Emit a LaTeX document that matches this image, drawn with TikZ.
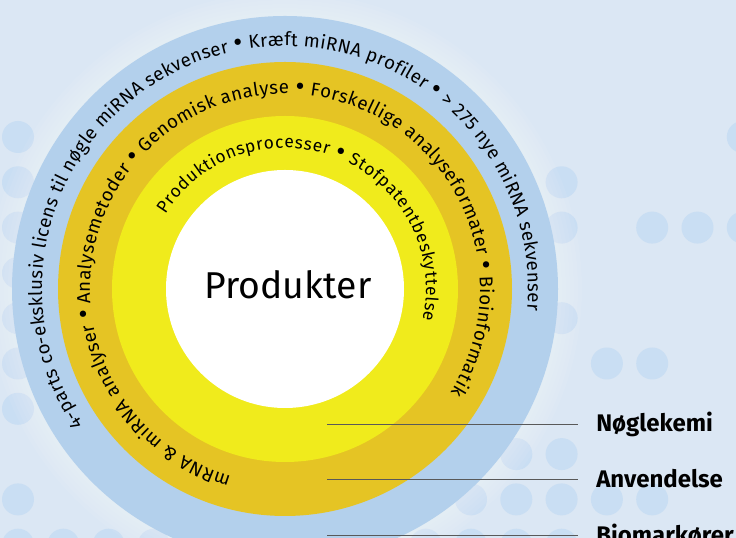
\documentclass[tikz,border=0pt]{standalone}
\usepackage{fontspec}
\setmainfont{Fira Sans}
\usetikzlibrary{decorations.text}

\definecolor{bgblue}{RGB}{219,231,244}
\definecolor{dotblue}{RGB}{201,222,243}
\definecolor{ringblue}{RGB}{179,208,236}
\definecolor{ringgold}{RGB}{229,196,36}
\definecolor{ringyellow}{RGB}{240,235,28}

\newcommand{\bigdot}{{\raisebox{-1.2pt}{\fontsize{21}{21}\selectfont •}}}

\begin{document}
\begin{tikzpicture}[x=0.75pt,y=0.75pt,
  bgdot/.style={fill=dotblue},
  ringtext/.style={decorate,decoration={text along path,text align={fit to path},text={#1}}},
  leader/.style={draw=black!65,line width=0.7pt},
  keyword/.style={anchor=west,inner xsep=13.5pt,inner ysep=0pt,font=\fontsize{18}{21}\selectfont\bfseries}]
\def\sp{45.3};\def\rblue{273};\def\rgold{227};\def\ryellow{173};\def\rwhite{119};
\useasboundingbox (0,0) rectangle (736,538);
\fill[bgblue] (0,0) rectangle (736,538);

% dots in the background
\foreach \i/\j in {0/0,16/0,0/1,12/1,0/2,12/2,14/2,15/2,16/2,0/3,0/4,12/4,0/5,13/5,14/5,0/6,
  11/7,12/7,0/8,10/8,11/8,12/8,13/8,14/8,0/9,1/9,2/9,3/9,9/9,10/9,11/9,12/9}
  \fill[bgdot] (18+\i*\sp,401-\j*\sp) circle[radius=16];

\coordinate (c) at (285,249);

\foreach \r in {277,281,...,297}
  \fill[white,opacity=0.06] (c) circle[radius=\r];
\fill[ringblue] (c) circle[radius=\rblue];
\fill[ringgold] (c) circle[radius=\rgold];
\fill[ringyellow] (c) circle[radius=\ryellow];
\fill[white] (c) circle[radius=\rwhite];

\node (prod) at (288,253) {\fontsize{28}{32}\selectfont Produkter};

\path[ringtext={|\fontsize{14}{16}\selectfont|4-parts co-eksklusiv licens til nøgle miRNA sekvenser {\bigdot} Kræft miRNA profiler {\bigdot} > 275 nye miRNA sekvenser}]
  (c) ++(214:243) arc[start angle=214,end angle=-5,radius=243];
\path[ringtext={|\fontsize{14}{16}\selectfont|mRNA {\&} miRNA analyser {\bigdot} Analysemetoder {\bigdot} Genomisk analyse {\bigdot} Forskellige analyseformater {\bigdot} Bioinformatik}]
  (c) ++(254:195) arc[start angle=254,end angle=-32,radius=195];
\path[ringtext={|\fontsize{13}{15}\selectfont|Produktionsprocesser {\bigdot} Stofpatentbeskyttelse}]
  (c) ++(148:141) arc[start angle=148,end angle=-12.7,radius=141];

\coordinate (lstart_1) at (327,114);
\coordinate (lstart_2) at (327,59);
\coordinate (lstart_3) at (327,3);
\node[keyword] (key_1) at (578,114) {Nøglekemi};
\node[keyword] (key_2) at (578,59) {Anvendelse};
\node[keyword] (key_3) at (578,3) {Biomarkører};
\draw[leader] (lstart_1)--(key_1.west);
\draw[leader] (lstart_2)--(key_2.west);
\draw[leader] (lstart_3)--(key_3.west);
\end{tikzpicture}
\end{document}
